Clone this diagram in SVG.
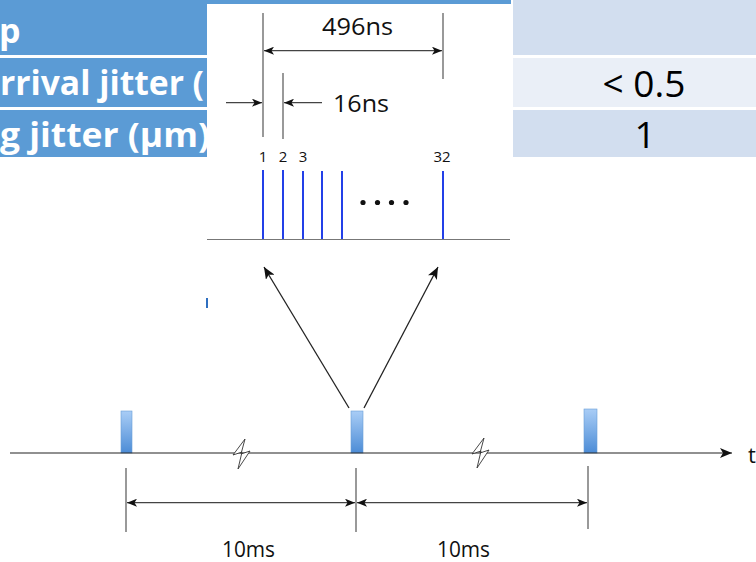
<svg xmlns="http://www.w3.org/2000/svg" width="756" height="562" viewBox="0 0 756 562">
<style>
.hdr{fill:#5B9BD5}
.c1{fill:#D2DEEF}
.c2{fill:#EAEFF7}
.th{font-family:"Open Sans","Liberation Sans",sans-serif;font-weight:bold;font-size:34px;fill:#fff}
.tv{font-family:"Open Sans","Liberation Sans",sans-serif;font-size:37px;fill:#000;text-anchor:middle}
.lbl{font-family:"Open Sans","Liberation Sans",sans-serif;font-size:24px;fill:#111}
.sm{font-family:"Open Sans","Liberation Sans",sans-serif;font-size:15px;fill:#111;text-anchor:middle}
.dim{stroke:#444;stroke-width:1.2;fill:none}
.tick{stroke:#555;stroke-width:1.2}
.pl{stroke:#2340E8;stroke-width:2}
.pulse{fill:url(#pg);stroke:#6A9ED8;stroke-width:0.6}
.brk{fill:#fff;stroke:#333;stroke-width:0.9}
</style>
<defs>
<marker id="ah" viewBox="0 0 10 8" refX="10" refY="4" markerWidth="10" markerHeight="8" markerUnits="userSpaceOnUse" orient="auto-start-reverse">
<path d="M0,0 L10,4 L0,8 L2.5,4 z" fill="#111"/>
</marker>
<marker id="ah2" viewBox="0 0 12 10" refX="12" refY="5" markerWidth="12" markerHeight="10" markerUnits="userSpaceOnUse" orient="auto">
<path d="M0,0 L12,5 L0,10 L3,5 z" fill="#111"/>
</marker>
<linearGradient id="pg" x1="0" y1="0" x2="0" y2="1">
<stop offset="0" stop-color="#A9CDF6"/>
<stop offset="1" stop-color="#4C8CD6"/>
</linearGradient>
</defs>
<rect width="756" height="562" fill="#fff"/>
<g id="table">
<rect class="hdr" x="0" y="0" width="511" height="55"/>
<rect class="c1" x="513" y="0" width="243" height="55"/>
<rect class="hdr" x="0" y="58" width="511" height="49"/>
<rect class="c2" x="513" y="58" width="243" height="49"/>
<rect class="hdr" x="0" y="110" width="511" height="47"/>
<rect class="c1" x="513" y="110" width="243" height="47"/>
<text class="th" x="-1" y="43">p</text>
<text class="th" x="0" y="95" textLength="204" lengthAdjust="spacingAndGlyphs">rrival jitter (</text>
<text class="th" x="0" y="147" textLength="210" lengthAdjust="spacingAndGlyphs">g jitter (μm)</text>
<text class="tv" x="644" y="97">&lt; 0.5</text>
<text class="tv" x="645" y="148">1</text>
</g>
<g id="zoom-panel">
<rect x="207" y="4" width="305" height="246" fill="#fff"/>
<line class="tick" x1="263" y1="13" x2="263" y2="137"/>
<line class="tick" x1="443" y1="13" x2="443" y2="79"/>
<line class="tick" x1="283" y1="73" x2="283" y2="139"/>
<text class="lbl" x="322" y="35" textLength="71" lengthAdjust="spacingAndGlyphs">496ns</text>
<text class="lbl" x="333" y="112" textLength="56" lengthAdjust="spacingAndGlyphs">16ns</text>
<text class="sm" x="263" y="162">1</text>
<text class="sm" x="283" y="162">2</text>
<text class="sm" x="303" y="162">3</text>
<text class="sm" x="442" y="162">32</text>
<line class="pl" x1="263" y1="170" x2="263" y2="239"/>
<line class="pl" x1="283" y1="170" x2="283" y2="239"/>
<line class="pl" x1="303" y1="171" x2="303" y2="239"/>
<line class="pl" x1="322" y1="171" x2="322" y2="239"/>
<line class="pl" x1="342" y1="171" x2="342" y2="239"/>
<line class="pl" x1="443" y1="171" x2="443" y2="239"/>
<g fill="#111">
<circle cx="363" cy="202.5" r="2.6"/>
<circle cx="377.5" cy="202.5" r="2.6"/>
<circle cx="391.5" cy="202.5" r="2.6"/>
<circle cx="406" cy="202.5" r="2.6"/>
</g>
<line x1="207" y1="239.5" x2="510" y2="239.5" stroke="#777" stroke-width="1.2"/>
</g>
<rect x="206" y="298" width="2" height="10" fill="#2F6FC0"/>
<g id="pulses">
<rect class="pulse" x="121" y="411" width="11" height="42"/>
<rect class="pulse" x="351" y="411" width="12" height="42"/>
<rect class="pulse" x="584" y="409" width="13" height="44"/>
</g>
<g id="connectors">
<line x1="10" y1="453" x2="732" y2="453" stroke="#222" stroke-width="1.2" marker-end="url(#ah2)"/>
<line x1="226" y1="102.7" x2="262" y2="102.7" class="dim" marker-end="url(#ah)"/>
<line x1="322" y1="102.7" x2="284" y2="102.7" class="dim" marker-end="url(#ah)"/>
<line x1="264" y1="50.7" x2="442" y2="50.7" class="dim" marker-start="url(#ah)" marker-end="url(#ah)"/>
<line x1="349" y1="408" x2="264" y2="267" stroke="#222" stroke-width="1.3" marker-end="url(#ah2)"/>
<line x1="364" y1="408" x2="438" y2="267" stroke="#222" stroke-width="1.3" marker-end="url(#ah2)"/>
<line class="tick" x1="126" y1="468" x2="126" y2="532"/>
<line class="tick" x1="356" y1="468" x2="356" y2="532"/>
<line class="tick" x1="588" y1="466" x2="588" y2="529"/>
<line x1="127" y1="502.7" x2="355" y2="502.7" class="dim" marker-start="url(#ah)" marker-end="url(#ah)"/>
<line x1="357" y1="502.7" x2="587" y2="502.7" class="dim" marker-start="url(#ah)" marker-end="url(#ah)"/>
<path class="brk" d="M245,439 L233,455 L242,452 L238,469 L250,451 L241,454 Z"/>
<path class="brk" d="M484,438 L472,454 L481,451 L477,468 L489,450 L480,453 Z"/>
</g>
<text class="lbl" x="748" y="463" style="font-size:22px">t</text>
<text class="lbl" x="222" y="557" textLength="53" lengthAdjust="spacingAndGlyphs" style="font-size:21px">10ms</text>
<text class="lbl" x="437" y="557" textLength="53" lengthAdjust="spacingAndGlyphs" style="font-size:21px">10ms</text>
</svg>
